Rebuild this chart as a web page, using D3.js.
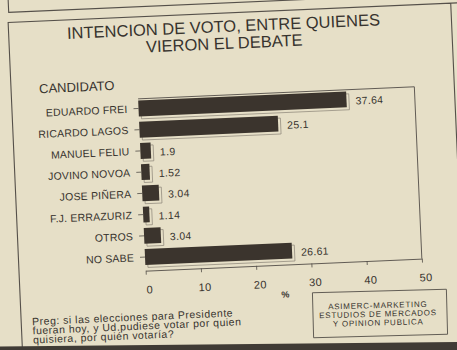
<!DOCTYPE html>
<html>
<head>
<meta charset="utf-8">
<script src="https://cdn.jsdelivr.net/npm/d3@7/dist/d3.min.js"></script>
<style>
  html, body { margin: 0; padding: 0; background: #e6dfc7; }
  svg { display: block; }
  text { font-family: "Liberation Sans", Arial, Helvetica, sans-serif; fill: #37332e; }
</style>
</head>
<body>
<svg id="chart" width="457" height="350"></svg>
<script>
// Candidates and their share of voting intention (%)
const categories = ["EDUARDO FREI", "RICARDO LAGOS", "MANUEL FELIU", "JOVINO NOVOA",
                    "JOSE PIÑERA", "F.J. ERRAZURIZ", "OTROS", "NO SABE"];
const values = [37.64, 25.1, 1.9, 1.52, 3.04, 1.14, 3.04, 26.61];
const xTicks = [0, 10, 20, 30, 40, 50];

const titleLines = ["INTENCION DE VOTO, ENTRE QUIENES", "VIERON EL DEBATE"];
const axisTitle = "CANDIDATO";
const unitLabel = "%";
const noteLines = ["Preg: si las elecciones para Presidente",
                   "fueran hoy, y Ud.pudiese votar por quien",
                   "quisiera, por quién votaría?"];
const creditLines = ["ASIMERC-MARKETING", "ESTUDIOS DE MERCADOS", "Y OPINION PUBLICA"];

const ink = "#37332e", barFill = "#3b342d", rule = "#55504a";

const svg = d3.select("#chart");
svg.append("rect").attr("width", 457).attr("height", 350).attr("fill", "#e6dfc7");

// The printed panel sits slightly askew on the page
const page = svg.append("g").attr("transform", "rotate(-2.5, 228, 175)");

// Panel borders (previous panel's bottom edge, and this panel's frame)
page.append("path")
  .attr("d", "M16,-20 V3 H480")
  .attr("fill", "none").attr("stroke", rule).attr("stroke-width", 1.1);
page.append("path")
  .attr("d", "M480,13 H15 V380 M458,13 V380")
  .attr("fill", "none").attr("stroke", rule).attr("stroke-width", 1.1);

// Title
page.selectAll("text.title").data(titleLines).enter().append("text")
  .attr("class", "title")
  .attr("x", 230).attr("y", (d, i) => 32 + i * 17)
  .attr("text-anchor", "middle")
  .style("font-size", "16.5px")
  .text(d => d);

page.append("text")
  .attr("x", 43).attr("y", 85)
  .style("font-size", "13px")
  .text(axisTitle);

// Scales
const x = d3.scaleLinear().domain([0, 50]).range([141.5, 418]);
const y = d3.scaleBand().domain(categories).range([94, 264])
  .paddingInner(0.25).paddingOuter(0.125);

const plotTop = 95, plotBottom = 267;

// Plot frame: top and right edges, bottom is the x axis line
page.append("path")
  .attr("d", `M${x(0)},${plotTop} H${x(50)} V${plotBottom}`)
  .attr("fill", "none").attr("stroke", rule).attr("stroke-width", 0.9);

// X axis
const xAxis = page.append("g")
  .attr("transform", `translate(0,${plotBottom})`)
  .call(d3.axisBottom(x).tickValues(xTicks).tickSize(4).tickPadding(11).tickSizeOuter(0));
xAxis.select(".domain").attr("stroke", rule).attr("stroke-width", 0.9);
xAxis.selectAll(".tick line").attr("stroke", rule).attr("stroke-width", 0.8);
xAxis.selectAll(".tick text")
  .attr("dx", 3)
  .style("font-size", "11px").style("letter-spacing", "0.4px")
  .style("font-family", "'Liberation Sans', Arial, sans-serif").attr("fill", ink);

page.append("text")
  .attr("x", 280).attr("y", 300)
  .attr("text-anchor", "middle")
  .style("font-size", "9px").style("font-weight", "bold")
  .text(unitLabel);

// Y axis: small ticks and candidate names
const yAxis = page.append("g")
  .attr("transform", `translate(${x(0)},0)`)
  .call(d3.axisLeft(y).tickSize(5).tickPadding(6));
yAxis.select(".domain").remove();
yAxis.selectAll(".tick line").attr("stroke", rule).attr("stroke-width", 0.8);
yAxis.selectAll(".tick text")
  .attr("dy", "0.75em")
  .attr("y", -4)
  .style("font-size", "10.5px").style("letter-spacing", "0.2px")
  .style("font-family", "'Liberation Sans', Arial, sans-serif").attr("fill", ink);

// Bars: thin offset outline behind the solid bar
const rows = page.selectAll("g.row")
  .data(categories.map((c, i) => ({ c, v: values[i] })))
  .enter().append("g").attr("class", "row");

rows.append("rect")
  .attr("x", x(0) + 2.5)
  .attr("y", d => y(d.c) + 2.5)
  .attr("width", d => x(d.v) - x(0))
  .attr("height", y.bandwidth())
  .attr("fill", "none").attr("stroke", "#8a8376").attr("stroke-width", 0.7);

rows.append("rect")
  .attr("x", x(0))
  .attr("y", d => y(d.c))
  .attr("width", d => x(d.v) - x(0))
  .attr("height", y.bandwidth())
  .attr("fill", barFill);

rows.append("text")
  .attr("x", d => x(d.v) + 9)
  .attr("y", d => y(d.c) + y.bandwidth() / 2 + 5.5)
  .style("font-size", "10.5px").style("letter-spacing", "0.3px")
  .text(d => String(d.v));

// Survey question
page.selectAll("text.note").data(noteLines).enter().append("text")
  .attr("class", "note")
  .attr("x", 26).attr("y", (d, i) => 316.5 + i * 9.2)
  .style("font-size", "10.5px").style("letter-spacing", "0.5px")
  .text(d => d);

// Source box
const credit = svg.append("g").attr("transform", "rotate(-1.5, 380, 313.5)");
credit.append("rect")
  .attr("x", 313).attr("y", 291).attr("width", 134).attr("height", 45)
  .attr("fill", "none").attr("stroke", rule).attr("stroke-width", 0.9);
credit.selectAll("text").data(creditLines).enter().append("text")
  .attr("x", 378).attr("y", (d, i) => 308 + i * 8.7)
  .attr("text-anchor", "middle")
  .style("font-size", "8px").style("letter-spacing", "0.75px")
  .text(d => d);

// Dark edge of the next page element at the bottom
svg.append("path")
  .attr("d", "M0,346.5 L457,342 L457,350 L0,350 Z")
  .attr("fill", "#403b35");
</script>
</body>
</html>
